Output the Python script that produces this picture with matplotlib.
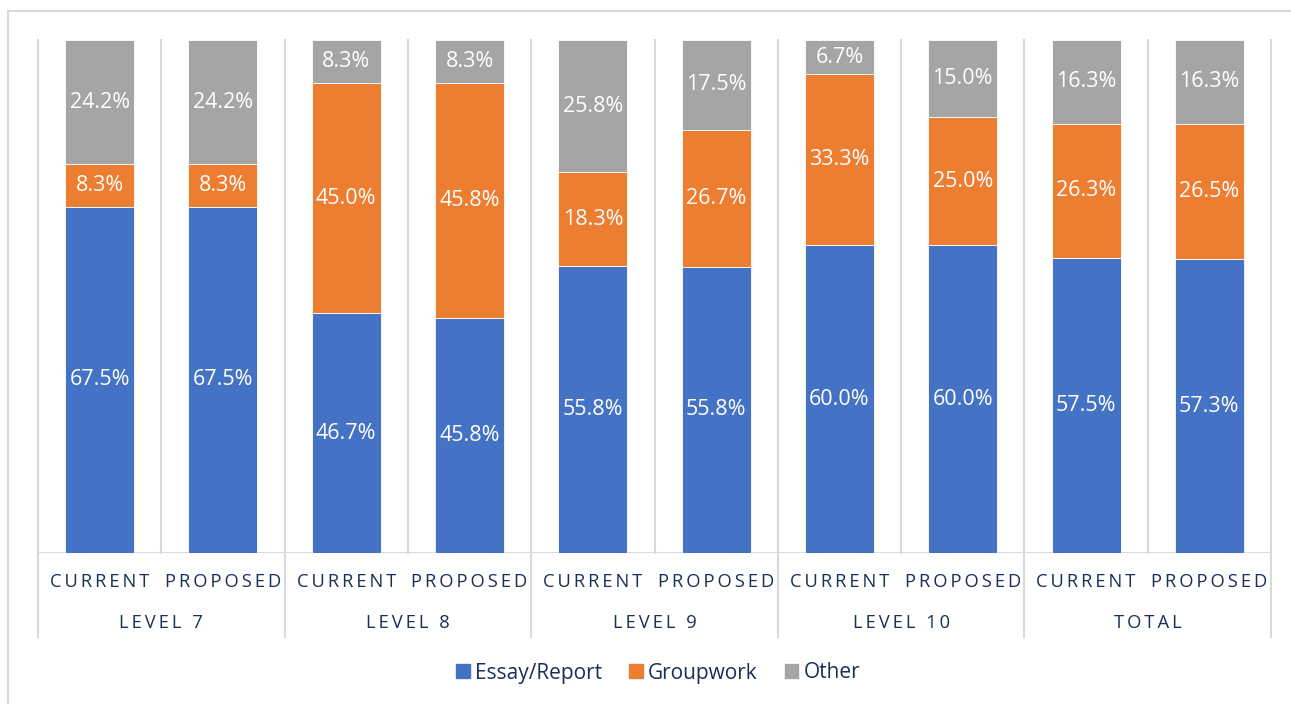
import matplotlib.pyplot as plt
import numpy as np
from matplotlib.lines import Line2D
from matplotlib.patches import Patch

plt.rcParams['font.family'] = ['Open Sans', 'DejaVu Sans']

groups = ['LEVEL 7', 'LEVEL 8', 'LEVEL 9', 'LEVEL 10', 'TOTAL']
bar_names = ['CURRENT', 'PROPOSED']
series = ['Essay/Report', 'Groupwork', 'Other']
colors = ['#4472C4', '#ED7D31', '#A5A5A5']

essay = [67.5, 67.5, 46.7, 45.8, 55.8, 55.8, 60.0, 60.0, 57.5, 57.3]
groupwork = [8.3, 8.3, 45.0, 45.8, 18.3, 26.7, 33.3, 25.0, 26.3, 26.5]
other = [24.2, 24.2, 8.3, 8.3, 25.8, 17.5, 6.7, 15.0, 16.3, 16.3]

text_col = '#1A2E5A'
grid_col = '#D9D9D9'


def spaced(s):
    return '\u2009'.join(s)


W, H = 1291, 704
fig = plt.figure(figsize=(W / 100, H / 100), dpi=100)
ax = fig.add_axes([38 / W, 1 - 553 / H, (1271 - 38) / W, (553 - 40) / H])

data = np.array([essay, groupwork, other])
shares = data / data.sum(axis=0) * 100
x = np.arange(len(essay))
bottom = np.zeros(len(essay))
for i, name in enumerate(series):
    ax.bar(x, shares[i], 0.56, bottom=bottom, color=colors[i],
           edgecolor='white', linewidth=0.6, label=name, zorder=3)
    for xi, b, h, v in zip(x, bottom, shares[i], data[i]):
        ax.text(xi, b + h / 2, f'{v:.1f}%', ha='center', va='center',
                color='white', fontsize=15.5, zorder=4)
    bottom += shares[i]

ax.set_xlim(-0.5, len(essay) - 0.5)
ax.set_ylim(0, 100)
ax.set_xticks([])
ax.set_yticks([])
for s in ax.spines.values():
    s.set_visible(False)
ax.axhline(0, color=grid_col, lw=1.5, zorder=2)

# separators between categories, group separators run down through the labels
for b in np.arange(-0.5, len(essay), 1):
    is_group = int(round(b + 0.5)) % 2 == 0
    y0 = -(637 - 553) / (553 - 40) * 100 if is_group else 0
    ax.add_line(Line2D([b, b], [y0, 100], color=grid_col, lw=1.5,
                       clip_on=False, zorder=1))

yc = -(582 - 553) / (553 - 40) * 100
yg = -(623 - 553) / (553 - 40) * 100
for xi in x:
    ax.text(xi, yc, spaced(bar_names[xi % 2]), ha='center', va='center',
            color=text_col, fontsize=13.2)
for g, name in enumerate(groups):
    ax.text(2 * g + 0.5, yg, spaced(name), ha='center', va='center',
            color=text_col, fontsize=13.2)

handles = [Patch(color=c) for c in colors]
fig.legend(handles, series, loc='center', bbox_to_anchor=(658 / W, 1 - 673 / H),
           ncol=3, frameon=False, fontsize=15, handlelength=0.65, handleheight=0.65,
           handletextpad=0.25, columnspacing=1.3, labelcolor=text_col)

# outer chart border
fig.add_artist(Line2D([8 / W, 8 / W], [0, 1 - 11 / H], color=grid_col, lw=1.5,
                      transform=fig.transFigure))
fig.add_artist(Line2D([8 / W, 1], [1 - 11 / H, 1 - 11 / H], color=grid_col, lw=1.5,
                      transform=fig.transFigure))

fig.savefig('out.png', dpi=100)
